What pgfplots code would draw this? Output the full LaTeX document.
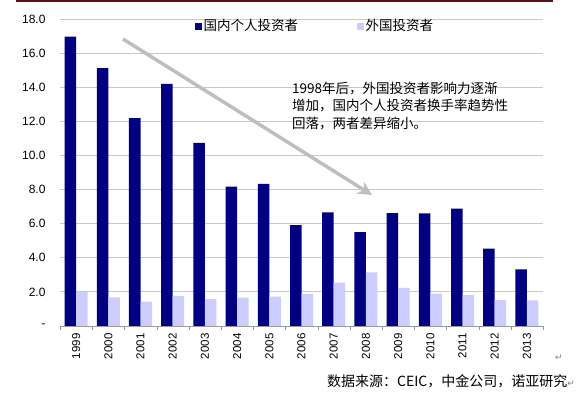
\documentclass[border=0pt]{standalone}
\usepackage{pgfplots}
\pgfplotsset{compat=1.18}
\usepackage{fontspec}
\setmainfont{Liberation Sans}
\newfontfamily\cjk{Noto Sans CJK SC}
\newfontfamily\djv{DejaVu Sans}
\definecolor{navy}{RGB}{0,0,128}
\definecolor{lav}{RGB}{204,204,255}
\definecolor{topred}{RGB}{90,16,20}
\definecolor{gridc}{RGB}{200,200,200}
\definecolor{arrc}{RGB}{190,190,190}
\usetikzlibrary{arrows.meta}
\begin{document}
\begin{tikzpicture}[x=1pt,y=1pt]
\path[use as bounding box] (0,0) rectangle (579,394);
\draw[topred, line width=2.5pt] (16,393) -- (553,393);
\begin{axis}[
  at={(60pt,68pt)}, anchor=south west,
  scale only axis, width=483pt, height=307pt,
  xmin=-0.5, xmax=14.5, ymin=0, ymax=18,
  ybar=0pt, bar width=11.5pt,
  axis x line*=bottom, axis y line*=left,
  y axis line style={draw=none},
  x axis line style={draw=gray!80, -},
  xtick={0,...,14},
  xticklabels={1999,2000,2001,2002,2003,2004,2005,2006,2007,2008,2009,2010,2011,2012,2013},
  minor xtick={-0.5,0.5,...,14.5},
  major tick length=0pt, minor tick length=4pt,
  tick align=outside,
  minor tick style={gray!80},
  xticklabel style={rotate=90, anchor=east, font=\fontsize{11.5}{12}\selectfont, yshift=0pt, xshift=-4pt},
  ytick={0,2,...,18},
  yticklabels={-\hspace{6pt},2.0,4.0,6.0,8.0,10.0,12.0,14.0,16.0,18.0},
  yticklabel style={font=\fontsize{12}{12}\selectfont, xshift=-11pt},
  ymajorgrids, grid style={gridc, line width=0.8pt},
  legend columns=2,
  legend style={at={(0.2795,0.977)}, anchor=west, draw=none, fill=none,
    font=\cjk\fontsize{13.5}{14}\selectfont, inner sep=0pt,
    /tikz/every even column/.append style={column sep=57pt}},
  legend image code/.code={\fill[#1] (0pt,-3.5pt) rectangle (6.5pt,3pt);},
]
\addplot[fill=navy, draw=none] coordinates {
(0,16.96) (1,15.12) (2,12.19) (3,14.19) (4,10.74) (5,8.17) (6,8.34) (7,5.92)
(8,6.66) (9,5.51) (10,6.62) (11,6.60) (12,6.88) (13,4.53) (14,3.32)};
\addplot[fill=lav, draw=none] coordinates {
(0,1.99) (1,1.68) (2,1.43) (3,1.76) (4,1.58) (5,1.66) (6,1.72) (7,1.88)
(8,2.54) (9,3.15) (10,2.23) (11,1.90) (12,1.82) (13,1.52) (14,1.50)};
\legend{国内个人投资者,外国投资者}
\end{axis}
\draw[arrc, line width=3.5pt, -{Stealth[length=14pt,width=14pt]}] (123,355) -- (372,199);
\node[anchor=west, align=left, font=\cjk\fontsize{13.5}{17.5}\selectfont, inner sep=0pt] at (292,288) {1998年后，外国投资者影响力逐渐\\增加，国内个人投资者换手率趋势性\\回落，两者差异缩小。};
\node[anchor=west, font=\cjk\fontsize{14}{14}\selectfont, inner sep=0pt] at (327,13) {数据来源：CEIC，中金公司，诺亚研究{\djv\fontsize{9}{9}\selectfont\color{gray}↵}};
\node[font=\djv\fontsize{9}{9}\selectfont, text=gray, inner sep=0pt] at (559,36) {↵};
\end{tikzpicture}
\end{document}
